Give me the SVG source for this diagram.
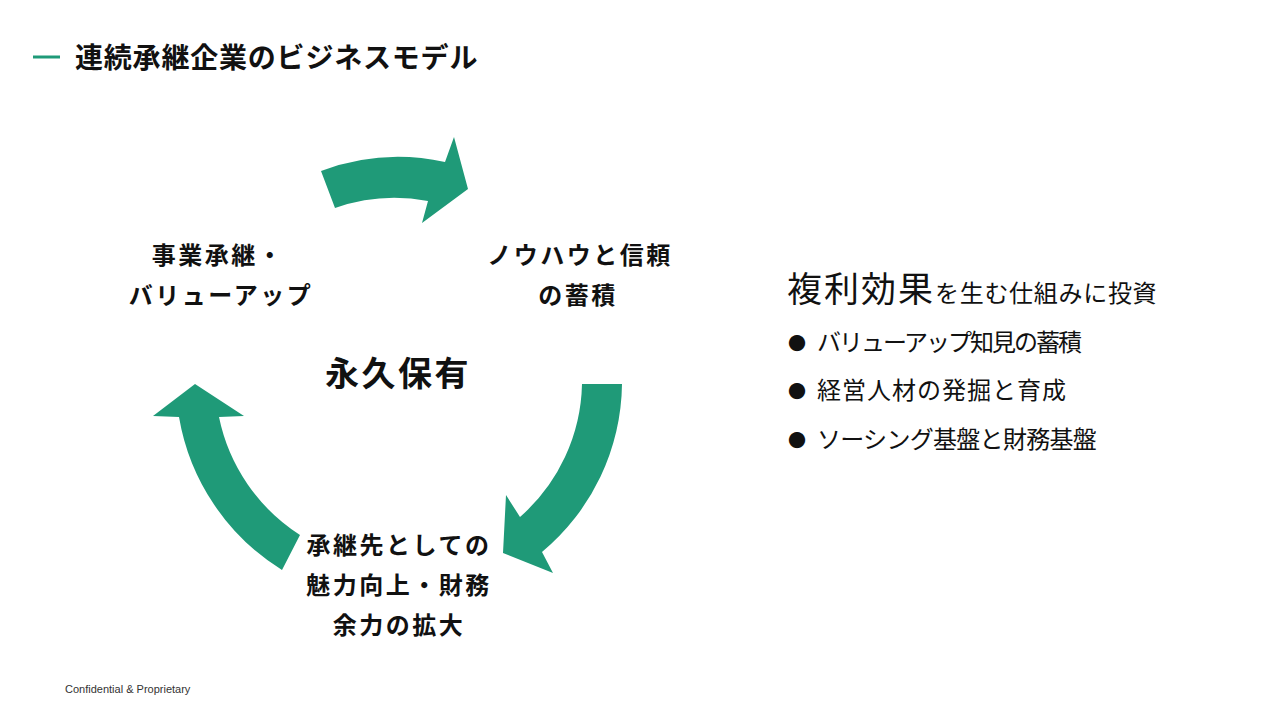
<svg xmlns="http://www.w3.org/2000/svg" width="1280" height="720" viewBox="0 0 1280 720">
<style>
.jp{font-family:"Noto Sans CJK JP","Noto Sans",sans-serif;fill:#111}
.b{font-weight:700}
.lbl{font-size:24px;letter-spacing:2.5px;text-anchor:middle}
.arrow{fill:#1f9a78}
.bul{font-size:24px;font-weight:400;fill:#111}
</style>
<rect width="1280" height="720" fill="#fff"/>
<g id="title">
<line x1="33" y1="57" x2="60" y2="57" stroke="#1f9a78" stroke-width="3"/>
<text class="jp b" x="75" y="68" font-size="28" letter-spacing="0.8">連続承継企業のビジネスモデル</text>
</g>
<g id="connectors">
<path class="arrow" d="M321,171 A221,221 0 0 1 445,162 L454,137 L468,189 L422,223 L428,201 A180,180 0 0 0 335,208 Z"/>
<path class="arrow" d="M582,384 L622,384 A222,222 0 0 1 542,552 L553,573 L503,553 L506,495 L520,517 A182,182 0 0 0 582,384 Z"/>
<path class="arrow" d="M300,535 L282,570 A224,224 0 0 1 179,417 L153,416 L195,384 L244,416 L219,417 A184,184 0 0 0 300,535 Z"/>
</g>
<g id="node-succession">
<text class="jp b lbl" x="218" y="264">事業承継・</text>
<text class="jp b lbl" x="221" y="304">バリューアップ</text>
</g>
<g id="node-knowhow">
<text class="jp b lbl" x="580" y="264">ノウハウと信頼</text>
<text class="jp b lbl" x="578" y="304">の蓄積</text>
</g>
<g id="node-center">
<text class="jp b" x="398" y="386" font-size="34" letter-spacing="2.5" text-anchor="middle">永久保有</text>
</g>
<g id="node-attractiveness">
<text class="jp b lbl" x="399" y="554">承継先としての</text>
<text class="jp b lbl" x="399" y="594">魅力向上・財務</text>
<text class="jp b lbl" x="399" y="634">余力の拡大</text>
</g>
<g id="right-text">
<text class="jp" x="787" y="302"><tspan font-size="35" letter-spacing="2">複利効果</tspan><tspan font-size="24" letter-spacing="0.7">を生む仕組みに投資</tspan></text>
<text class="jp" x="788" y="350" font-size="18">●</text>
<text class="jp bul" x="817" y="351" letter-spacing="-2">バリューアップ知見の蓄積</text>
<text class="jp" x="788" y="398" font-size="18">●</text>
<text class="jp bul" x="817" y="399" letter-spacing="1">経営人材の発掘と育成</text>
<text class="jp" x="788" y="447" font-size="18">●</text>
<text class="jp bul" x="817" y="448" letter-spacing="-0.7">ソーシング基盤と財務基盤</text>
</g>
<g id="footer">
<text x="65" y="693" font-family="Liberation Sans, sans-serif" font-size="11" fill="#333">Confidential &amp; Proprietary</text>
</g>
</svg>
